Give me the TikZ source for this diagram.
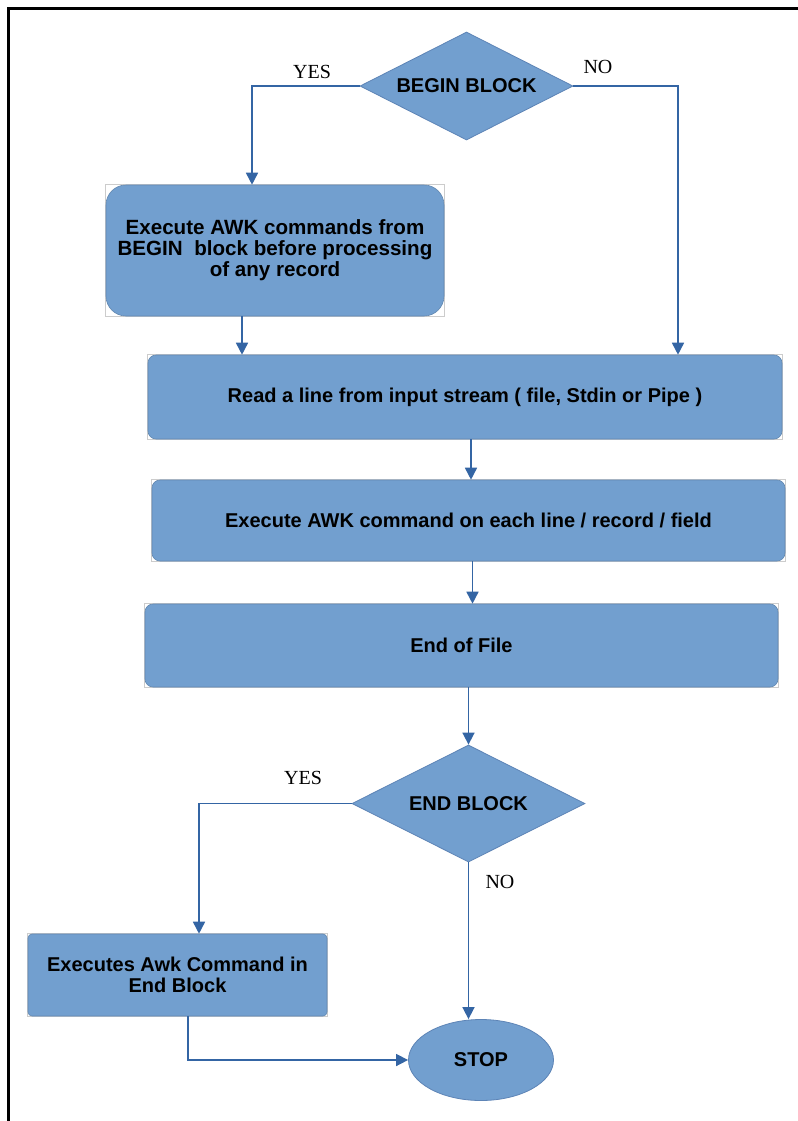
\documentclass[tikz,border=0pt]{standalone}
\usepackage{fontspec}
\setmainfont{Liberation Sans}
\newfontfamily\labelfont{Liberation Serif}
\usetikzlibrary{shapes.geometric,arrows.meta}
\definecolor{boxblue}{HTML}{729FCF}
\definecolor{lineblue}{HTML}{3465A4}

\begin{document}
\begin{tikzpicture}[x=0.5pt,y=-0.5pt,
  boxtext/.style={font=\bfseries\fontsize{10}{10.5}\selectfont,text=black,align=center,inner sep=0pt},
  block/.style={boxtext,rectangle,fill=boxblue,draw=boxblue!85!black,line width=0.3pt,rounded corners=#1,
    append after command={\pgfextra{\draw[sharp corners,gray!40,line width=0.5pt] (\tikzlastnode.south west) rectangle (\tikzlastnode.north east);}}},
  block/.default=4pt,
  decision/.style={boxtext,diamond,shape aspect=2,fill=boxblue,draw=lineblue!80,line width=0.4pt},
  answer/.style={font=\labelfont\fontsize{10}{12}\selectfont,inner sep=0pt},
  flow/.style={lineblue,line width=0.8pt,-{Triangle[width=6pt,length=6pt]}},
]
\path[use as bounding box,fill=white] (0,0) rectangle (798,1121);
\draw[line width=1.5pt] (8,1121) -- (8,8) -- (798,8);

\node[decision,minimum width=106.5pt,minimum height=54pt] (beginblk) at (466.5,86) {BEGIN BLOCK};
\node[block=10pt,minimum width=169pt,minimum height=65.5pt,font=\bfseries\fontsize{10.3}{10.5}\selectfont] (beginact) at (275,250.5) {Execute AWK commands from\\BEGIN\ \ block before processing\\of any record};
\node[block,minimum width=317pt,minimum height=42pt] (readline) at (465,397) {Read a line from input stream ( file, Stdin or Pipe )};
\node[block,minimum width=316.5pt,minimum height=40.5pt] (execline) at (468.5,520.5) {Execute AWK command on each line / record / field};
\node[block,minimum width=316.5pt,minimum height=41.5pt] (eof) at (461.5,645.5) {End of File};
\node[decision,minimum width=116.5pt,minimum height=58.5pt] (endblk) at (468.5,803.5) {END BLOCK};
\node[block=2pt,minimum width=149.5pt,minimum height=41pt] (endact) at (177.5,975) {Executes Awk Command in\\End Block};
\node[boxtext,ellipse,fill=boxblue,draw=lineblue!80,line width=0.4pt,minimum width=72.5pt,minimum height=40.5pt] (stop) at (481,1060) {STOP};

\node[answer] (yes1) at (312,72) {YES};
\node[answer] (no1) at (598,67) {NO};
\node[answer] (yes2) at (303,778) {YES};
\node[answer] (no2) at (500,882) {NO};

\draw[flow] (beginblk.west) -| ([xshift=-11.5pt]beginact.north);
\draw[flow] (beginblk.east) -| ([xshift=106.5pt]readline.north);
\draw[flow] ([xshift=-16.5pt]beginact.south) -- ([xshift=-16.5pt]beginact.south |- readline.north);
\draw[flow] ([xshift=3pt]readline.south) -- ([xshift=3pt]readline.south |- execline.north);
\draw[flow] ([xshift=2pt]execline.south) -- ([xshift=2pt]execline.south |- eof.north);
\draw[flow] (eof.south -| endblk.north) -- (endblk.north);
\draw[flow] (endblk.west) -| ([xshift=10.75pt]endact.north);
\draw[flow] (endblk.south) -- (endblk.south |- stop.north);
\draw[flow] ([xshift=5.25pt]endact.south) |- (stop.west);
\end{tikzpicture}
\end{document}
